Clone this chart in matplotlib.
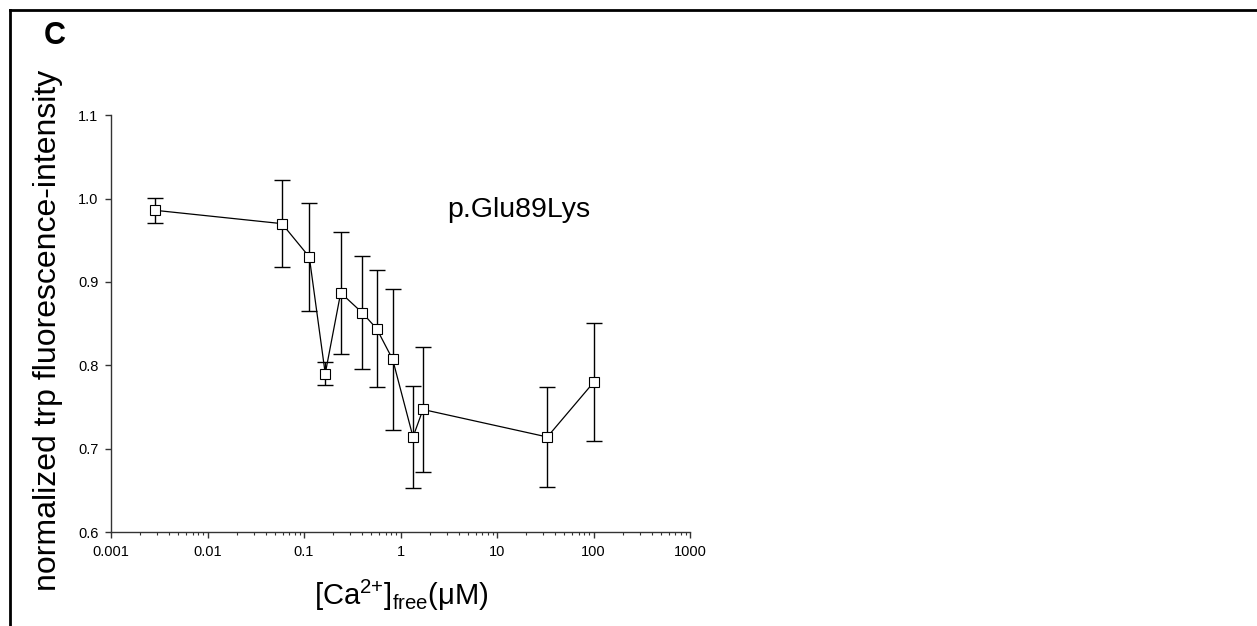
import matplotlib
matplotlib.use("Agg")
import matplotlib.pyplot as plt
from matplotlib.lines import Line2D

plt.rcParams['font.family'] = ['Liberation Sans', 'DejaVu Sans']
plt.rcParams['mathtext.fontset'] = 'custom'
plt.rcParams['mathtext.rm'] = 'Liberation Sans'
plt.rcParams['mathtext.it'] = 'Liberation Sans:italic'
plt.rcParams['mathtext.bf'] = 'Liberation Sans:bold'

ca_free = [0.00286, 0.0591, 0.1135, 0.166, 0.240, 0.402, 0.566, 0.830, 1.348, 1.71, 33.2, 101.0]
intensity = [0.986, 0.970, 0.930, 0.790, 0.887, 0.863, 0.844, 0.807, 0.714, 0.747, 0.714, 0.780]
sd = [0.015, 0.052, 0.065, 0.014, 0.073, 0.068, 0.070, 0.085, 0.061, 0.075, 0.060, 0.071]

x_ticks = [0.001, 0.01, 0.1, 1, 10, 100, 1000]
x_ticklabels = ['0.001', '0.01', '0.1', '1', '10', '100', '1000']
y_ticks = [0.6, 0.7, 0.8, 0.9, 1.0, 1.1]
y_ticklabels = ['0.6', '0.7', '0.8', '0.9', '1.0', '1.1']

fig = plt.figure(figsize=(12.57, 6.26), dpi=100)
ax = fig.add_axes([111/1257, 1-532/626, (690-111)/1257, (532-115.3)/626])

ax.errorbar(ca_free, intensity, yerr=sd, fmt='none', ecolor='black',
            elinewidth=1.0, capsize=5.5, capthick=1.0, zorder=2)
ax.plot(ca_free, intensity, color='black', lw=0.9, marker='s', markersize=7.2,
        markerfacecolor='white', markeredgecolor='black', markeredgewidth=0.8, zorder=3)

ax.set_xscale('log')
ax.set_xlim(0.001, 1000)
ax.set_ylim(0.6, 1.1)
ax.set_xticks(x_ticks)
ax.set_xticklabels(x_ticklabels)
ax.set_yticks(y_ticks)
ax.set_yticklabels(y_ticklabels)

for s in ['top', 'right']:
    ax.spines[s].set_visible(False)
for s in ['left', 'bottom']:
    ax.spines[s].set_color('#333333')
    ax.spines[s].set_linewidth(1.0)

ax.tick_params(axis='both', which='major', direction='out', length=4, width=1.0,
               color='#333333', labelsize=10.5, pad=5)
ax.tick_params(axis='x', which='minor', direction='out', length=2.5, width=0.8, color='#333333')

ax.set_xlabel(r'[Ca$^{\text{2+}}$]$_{\text{free}}$(μM)', fontsize=21)
ax.set_ylabel('normalized trp fluorescence-intensity', fontsize=23)
ax.xaxis.set_label_coords((401-111)/(690-111), -(578-532)/(532-115.3))
ax.yaxis.set_label_coords(-(111-63)/(690-111), (532-330)/(532-115.3))

ax.text(16.9, 0.986, 'p.Glu89Lys', fontsize=20.5, ha='center', va='center')
fig.text(55/1257, 1-36/626, 'C', fontsize=22, fontweight='bold', ha='center', va='center')

# frame (top and left edges)
fig.add_artist(Line2D([10/1257, 1.0], [1-10/626, 1-10/626], transform=fig.transFigure,
                      color='black', lw=2))
fig.add_artist(Line2D([10/1257, 10/1257], [1-10/626, 0.0], transform=fig.transFigure,
                      color='black', lw=2))

fig.savefig('out.png', dpi=100)
